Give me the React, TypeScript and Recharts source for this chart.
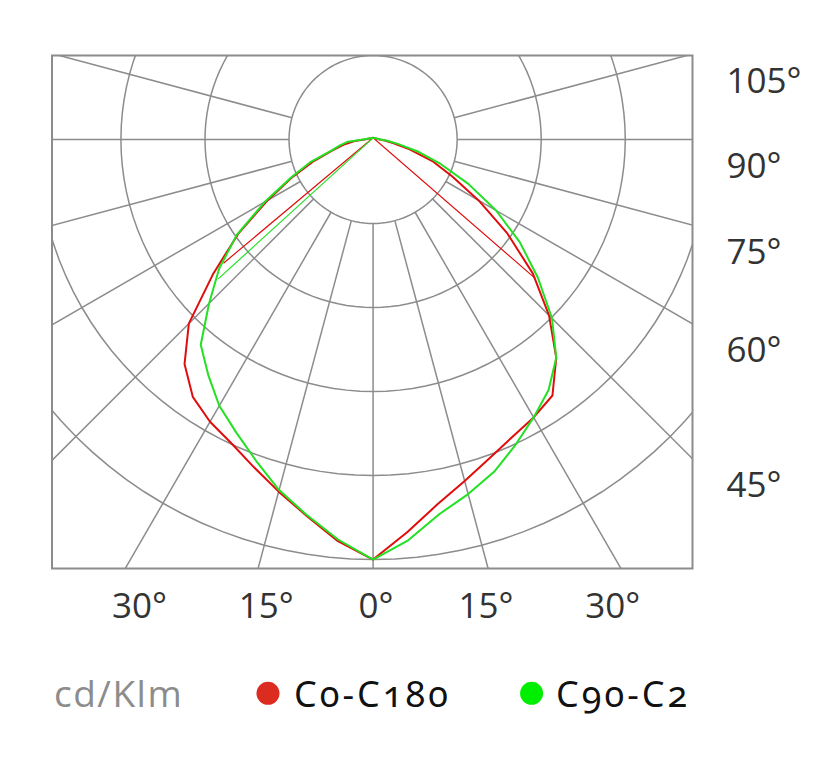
import { ComposedChart, Line, ReferenceArea, XAxis, YAxis } from "recharts";

// polar angles (deg from nadir), same for both half planes
const ANGLES = [0, 5, 10, 15, 20, 25, 30, 35, 40, 45, 50, 55, 60, 65, 70, 75, 80, 85, 90, 180];

// cd/klm, one ring = 1 unit
const C0_C180_RIGHT = [5.0, 4.69, 4.41, 4.21, 4.04, 3.91, 3.82, 3.72, 3.39, 2.96, 2.48, 1.95, 1.45, 1.04, 0.75, 0.45, 0.24, 0.14, 0.08, 0.02];
const C0_C180_LEFT = [5.0, 4.8, 4.55, 4.34, 4.15, 3.99, 3.88, 3.74, 3.49, 3.1, 2.48, 1.96, 1.45, 1.06, 0.75, 0.5, 0.36, 0.22, 0.1, 0.02];
const C90_C2_RIGHT = [5.0, 4.79, 4.53, 4.37, 4.21, 4.01, 3.82, 3.64, 3.39, 3.01, 2.56, 2.13, 1.69, 1.25, 0.86, 0.55, 0.3, 0.17, 0.09, 0.02];
const C90_C2_LEFT = [5.0, 4.78, 4.54, 4.32, 4.07, 3.85, 3.66, 3.42, 3.19, 2.76, 2.39, 1.98, 1.49, 1.08, 0.8, 0.52, 0.4, 0.3, 0.12, 0.02];

// stray closing segments (signed angle, value)
const C0_C180_CHORD_ANGLES = [-50.4, 180, 49.4];
const C0_C180_CHORD_VALUES = [2.31, 0.02, 2.54];
const C90_C2_CHORD_ANGLES = [-48, 180];
const C90_C2_CHORD_VALUES = [2.48, 0.02];

const RINGS = [1, 2, 3, 4, 5];
const SPOKES = [0, 15, 30, 45, 60, 75, 90, 105];
const BOTTOM_LABELS = [-30, -15, 0, 15, 30];
const SIDE_LABELS = [105, 90, 75, 60, 45];

const X_DOMAIN: [number, number] = [-3.82, 3.8];
const Y_DOMAIN: [number, number] = [-5.107, 1];

const GRID = "#8c8c8c";
const RED = "#e00d0d";
const GREEN = "#22e022";
const FONT = "'Open Sans', 'Noto Sans', sans-serif";

function toXY(angle: number, value: number) {
  const rad = (angle * Math.PI) / 180;
  return { x: Math.sin(rad) * value, y: -Math.cos(rad) * value };
}

function curve(left: number[], right: number[]) {
  const l = ANGLES.map((a, i) => toXY(-a, left[i])).reverse();
  const r = ANGLES.map((a, i) => toXY(a, right[i]));
  return [...l, ...r.slice(1)];
}

function chord(angles: number[], values: number[]) {
  return angles.map((a, i) => toXY(a, values[i]));
}

const ringData = RINGS.map((r) => {
  const pts = [];
  for (let a = 0; a <= 360; a += 3) pts.push(toXY(a, r));
  return pts;
});

const spokeData = SPOKES.flatMap((a) =>
  (a === 0 ? [0] : [-a, a]).map((s) => [toXY(s, 1), toXY(s, 8)]),
);

const redCurve = curve(C0_C180_LEFT, C0_C180_RIGHT);
const greenCurve = curve(C90_C2_LEFT, C90_C2_RIGHT);
const redChord = chord(C0_C180_CHORD_ANGLES, C0_C180_CHORD_VALUES);
const greenChord = chord(C90_C2_CHORD_ANGLES, C90_C2_CHORD_VALUES);

const bottomTicks = BOTTOM_LABELS.map((a) => Math.tan((a * Math.PI) / 180) * -Y_DOMAIN[0] * 0.955);
const sideTicks = SIDE_LABELS.map((a) => {
  const rad = (a * Math.PI) / 180;
  return (-X_DOMAIN[1] * Math.cos(rad)) / Math.sin(rad) - 0.3;
});

function BottomTick({ x, y, index }: any) {
  return (
    <text x={x + 3} y={y + 36} textAnchor="middle" dominantBaseline="central" fill="#333" fontSize={35} fontFamily={FONT}>
      {`${Math.abs(BOTTOM_LABELS[index])}°`}
    </text>
  );
}

function SideTick({ x, y, index }: any) {
  return (
    <text x={x + 34} y={y} textAnchor="start" dominantBaseline="central" fill="#333" fontSize={35} fontFamily={FONT}>
      {`${SIDE_LABELS[index]}°`}
    </text>
  );
}

export default function App() {
  return (
    <div style={{ position: "absolute", left: 0, top: 0, width: 821, height: 761, background: "#fff" }}>
      <ComposedChart width={821} height={761} margin={{ top: 55.5, left: 52, right: 28.5, bottom: 132.5 }}>
        <XAxis
          type="number"
          dataKey="x"
          domain={X_DOMAIN}
          allowDataOverflow
          ticks={bottomTicks}
          interval={0}
          height={60}
          axisLine={false}
          tickLine={false}
          tickSize={0}
          tickMargin={0}
          tick={BottomTick}
        />
        <YAxis
          type="number"
          dataKey="y"
          orientation="right"
          domain={Y_DOMAIN}
          allowDataOverflow
          ticks={sideTicks}
          interval={0}
          width={100}
          axisLine={false}
          tickLine={false}
          tickSize={0}
          tickMargin={0}
          tick={SideTick}
        />

        {ringData.map((pts, i) => (
          <Line key={`ring-${i}`} data={pts} dataKey="y" type="linear" stroke={GRID} strokeWidth={1.5} dot={false} isAnimationActive={false} />
        ))}
        {spokeData.map((pts, i) => (
          <Line key={`spoke-${i}`} data={pts} dataKey="y" type="linear" stroke={GRID} strokeWidth={1.5} dot={false} isAnimationActive={false} />
        ))}

        <ReferenceArea x1={X_DOMAIN[0]} x2={X_DOMAIN[1]} y1={Y_DOMAIN[0]} y2={Y_DOMAIN[1]} fill="none" stroke={GRID} strokeWidth={2} fillOpacity={0} ifOverflow="visible" />

        <Line data={redChord} dataKey="y" type="linear" stroke={RED} strokeWidth={1.2} dot={false} isAnimationActive={false} />
        <Line data={greenChord} dataKey="y" type="linear" stroke={GREEN} strokeWidth={1.2} dot={false} isAnimationActive={false} />
        <Line data={redCurve} dataKey="y" type="linear" stroke={RED} strokeWidth={2} strokeLinejoin="round" dot={false} isAnimationActive={false} />
        <Line data={greenCurve} dataKey="y" type="linear" stroke={GREEN} strokeWidth={2} strokeLinejoin="round" dot={false} isAnimationActive={false} />
      </ComposedChart>

      <svg width={821} height={100} style={{ position: "absolute", left: 0, top: 640 }}>
        <text x={54} y={66.7} fill="#8c8c8c" fontSize={37} fontFamily={FONT} letterSpacing={1.5}>
          cd/Klm
        </text>
        <circle cx={268} cy={53.3} r={11.5} fill="#dc2b1f" />
        <text x={294} y={66.7} fill="#111" fontSize={36} fontFamily="'Noto Sans', sans-serif" letterSpacing={3} style={{ fontVariantNumeric: "oldstyle-nums" }}>
          C0-C180
        </text>
        <circle cx={531.6} cy={53.3} r={11.5} fill="#00ee00" />
        <text x={556} y={66.7} fill="#111" fontSize={36} fontFamily="'Noto Sans', sans-serif" letterSpacing={3} style={{ fontVariantNumeric: "oldstyle-nums" }}>
          C90-C2
        </text>
      </svg>
    </div>
  );
}
